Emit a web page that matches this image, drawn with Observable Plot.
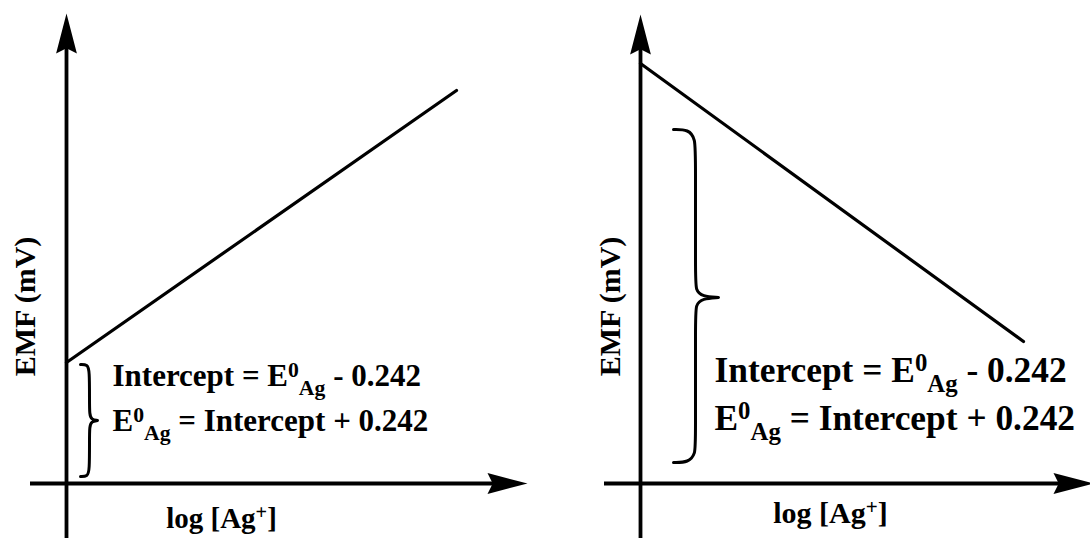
<!DOCTYPE html>
<html>
<head>
<meta charset="utf-8">
<script src="https://cdn.jsdelivr.net/npm/d3@7"></script>
<script src="https://cdn.jsdelivr.net/npm/@observablehq/plot@0.6"></script>
<style>
  html, body { margin: 0; padding: 0; background: #fff; overflow: hidden; }
  #wrap { display: flex; width: 1090px; height: 538px; }
  #wrap svg { flex: none; overflow: visible; }
</style>
</head>
<body>
<div id="wrap"></div>
<script>
// ---- Data (schematic units: x = log[Ag+], y = EMF) ----
const equations = ["Intercept = E^0_Ag - 0.242", "E^0_Ag = Intercept + 0.242"];
const xLabel = "log [Ag^+]";
const yLabel = "EMF (mV)";

// Left panel: EMF rises with log[Ag+]
const leftLineX = [0, 3.90];
const leftLineY = [1.21, 3.93];
const leftAxisX = [-0.36, 4.61];
const leftAxisY = [-0.55, 4.70];
const leftBraceX = [0.14, 0.21, 0.23, 0.23, 0.23, 0.25, 0.31, 0.31, 0.31, 0.25, 0.23, 0.23, 0.23, 0.21, 0.14];
const leftBraceY = [1.19, 1.19, 1.13, 0.83, 0.69, 0.64, 0.63, 0.63, 0.63, 0.62, 0.57, 0.43, 0.13, 0.07, 0.07];

// Right panel: EMF falls with log[Ag+]
const rightLineX = [0, 3.83];
const rightLineY = [4.20, 1.42];
const rightAxisX = [-0.36, 4.53];
const rightAxisY = [-0.55, 4.69];
const rightBraceX = [0.33, 0.48, 0.55, 0.55, 0.55, 0.55, 0.62, 0.78, 0.78, 0.78, 0.62, 0.55, 0.55, 0.55, 0.55, 0.48, 0.33];
const rightBraceY = [3.54, 3.54, 3.45, 3.23, 2.08, 1.93, 1.87, 1.86, 1.86, 1.86, 1.85, 1.79, 1.63, 0.43, 0.30, 0.21, 0.21];

// ---- Drawing ----
const W = 545, H = 538, OY = 483, PX = 100;
const FONT = "'Liberation Serif', 'Times New Roman', serif";

const arrowHead = {
  draw(ctx, size) {
    const L = Math.sqrt(size / Math.PI);
    const w = 0.26 * L;
    ctx.moveTo(0, 0);
    ctx.lineTo(w, L);
    ctx.lineTo(0, 0.87 * L);
    ctx.lineTo(-w, L);
    ctx.closePath();
  }
};

function panel(o) {
  const line = o.lineX.map((x, i) => ({x, y: o.lineY[i]}));
  const brace = o.braceX.map((x, i) => ({x, y: o.braceY[i]}));
  return Plot.plot({
    width: W, height: H, margin: 0,
    style: {background: "transparent", overflow: "visible"},
    x: {domain: [-o.ox / PX, (W - o.ox) / PX], axis: null},
    y: {domain: [-(H - OY) / PX, OY / PX], axis: null},
    marks: [
      Plot.ruleX([0], {y1: o.axisY[0], y2: o.axisY[1] - 0.25, stroke: "black", strokeWidth: 3.8}),
      Plot.ruleY([0], {x1: o.axisX[0], x2: o.axisX[1] - 0.25, stroke: "black", strokeWidth: 3.8}),
      Plot.dot([0], {x: () => 0, y: () => o.axisY[1], symbol: arrowHead, r: 40, fill: "black"}),
      Plot.dot([0], {x: () => o.axisX[1], y: () => 0, symbol: arrowHead, r: 40, fill: "black", rotate: 90}),
      Plot.line(line, {x: "x", y: "y", stroke: "black", strokeWidth: 3.2}),
      Plot.line(brace, {x: "x", y: "y", curve: "basis", stroke: "black", strokeWidth: 3}),
      Plot.text(equations, {
        x: () => o.eqX, y: (d, i) => o.eqY[i], text: d => d,
        fontSize: o.eqSize, fontFamily: FONT, fontWeight: "bold",
        textAnchor: "start", lineAnchor: "bottom", fill: "black"
      }),
      Plot.text([xLabel], {
        x: () => o.xlX, y: () => o.xlY, text: d => d,
        fontSize: o.xlSize, fontFamily: FONT, fontWeight: "bold",
        textAnchor: "middle", lineAnchor: "bottom", fill: "black"
      }),
      Plot.text([yLabel], {
        x: () => o.ylX, y: () => o.ylY, text: d => d, rotate: -90,
        fontSize: o.ylSize, fontFamily: FONT, fontWeight: "bold",
        textAnchor: "middle", lineAnchor: "middle", fill: "black"
      })
    ]
  });
}

const wrap = document.getElementById("wrap");
wrap.append(panel({
  ox: 66,
  lineX: leftLineX, lineY: leftLineY, axisX: leftAxisX, axisY: leftAxisY,
  braceX: leftBraceX, braceY: leftBraceY,
  eqX: 0.46, eqY: [0.98, 0.53], eqSize: 31,
  xlX: 1.55, xlY: -0.44, xlSize: 29,
  ylX: -0.41, ylY: 1.77, ylSize: 30
}));
wrap.append(panel({
  ox: 95,
  lineX: rightLineX, lineY: rightLineY, axisX: rightAxisX, axisY: rightAxisY,
  braceX: rightBraceX, braceY: rightBraceY,
  eqX: 0.74, eqY: [1.02, 0.54], eqSize: 35.4,
  xlX: 1.90, xlY: -0.39, xlSize: 30,
  ylX: -0.30, ylY: 1.77, ylSize: 30
}));

// Turn ^sup and _sub markup into real tspans
const NS = "http://www.w3.org/2000/svg";
wrap.querySelectorAll("text").forEach(t => {
  const s = t.textContent;
  if (!/[\^_]/.test(s)) return;
  const F = parseFloat(getComputedStyle(t).fontSize);
  const parts = s.split(/(\^[^\s_\]]+|_[A-Za-z]+)/).filter(p => p.length);
  t.textContent = "";
  let cur = 0;
  parts.forEach(p => {
    const ts = document.createElementNS(NS, "tspan");
    let target = 0, txt = p, size = null;
    if (p[0] === "^") { target = -0.29 * F; txt = p.slice(1); size = 0.7 * F; }
    else if (p[0] === "_") { target = 0.30 * F; txt = p.slice(1); size = 0.7 * F; }
    if (target !== cur) ts.setAttribute("dy", target - cur);
    cur = target;
    if (size) ts.setAttribute("font-size", size);
    ts.textContent = txt;
    t.appendChild(ts);
  });
});
</script>
</body>
</html>
